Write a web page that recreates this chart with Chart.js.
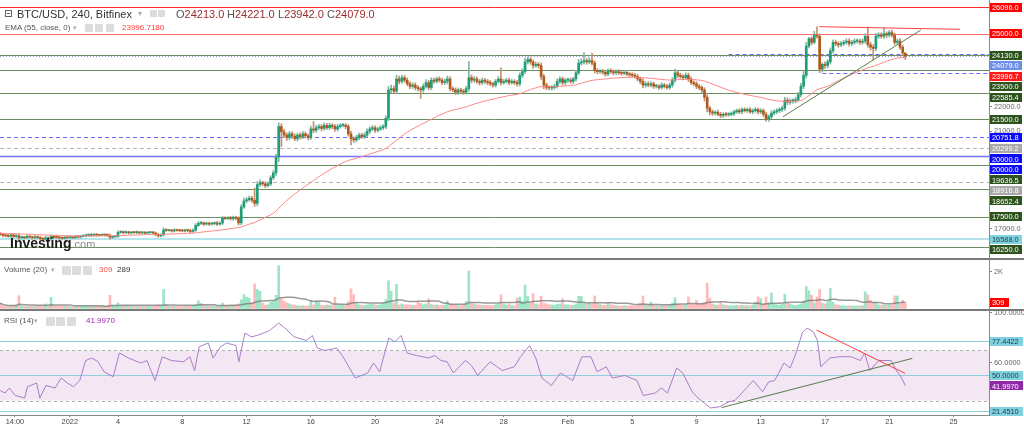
<!DOCTYPE html>
<html><head><meta charset="utf-8">
<script src="https://cdn.jsdelivr.net/npm/chart.js@4.4.1/dist/chart.umd.min.js"></script>
<style>
html,body{margin:0;padding:0;background:#fff;width:1024px;height:430px;overflow:hidden;font-family:"Liberation Sans",Arial,sans-serif;}
.pane{position:absolute;left:0;width:1024px;}
canvas{display:block;}
.hdr{position:absolute;white-space:nowrap;color:#444;}
.ic{position:absolute;background:#dcdcdc;border-radius:1px;}
.sep{position:absolute;left:0;width:1024px;background:#7a7a7a;}
.k{color:#555}.v{color:#9a2b2b}
</style></head><body>
<div class="pane" style="top:0;height:259px"><canvas id="cMain" width="1024" height="259"></canvas></div>
<div class="pane" style="top:259px;height:52px"><canvas id="cVol" width="1024" height="52"></canvas></div>
<div class="pane" style="top:311px;height:119px"><canvas id="cRsi" width="1024" height="119"></canvas></div>
<div class="sep" style="top:258px;height:2px"></div>
<div class="sep" style="top:309px;height:2px"></div>

<div style="position:absolute;left:5px;top:10px;width:7px;height:7px;border:1px solid #666;box-sizing:border-box"><div style="position:absolute;left:1px;top:2px;width:3px;height:1px;background:#666"></div></div>
<div class="hdr" style="left:17px;top:7px;font-size:11px;line-height:14px;color:#333">BTC/USD, 240, Bitfinex</div>
<div class="hdr" style="left:138px;top:8px;font-size:8px;line-height:12px;color:#aaa">▾</div>
<div class="ic" style="left:150px;top:10px;width:7px;height:7px"></div>
<div class="ic" style="left:158px;top:10px;width:7px;height:7px"></div>
<div class="hdr" style="left:176px;top:7px;font-size:11px;line-height:14px"><span class="k">O</span><span class="v">24213.0</span></div>
<div class="hdr" style="left:227px;top:7px;font-size:11px;line-height:14px"><span class="k">H</span><span class="v">24221.0</span></div>
<div class="hdr" style="left:278px;top:7px;font-size:11px;line-height:14px"><span class="k">L</span><span class="v">23942.0</span></div>
<div class="hdr" style="left:327px;top:7px;font-size:11px;line-height:14px"><span class="k">C</span><span class="v">24079.0</span></div>

<div class="hdr" style="left:5px;top:23px;font-size:8px;line-height:10px;color:#555">EMA (55, close, 0)</div>
<div class="hdr" style="left:73px;top:23px;font-size:7px;line-height:10px;color:#aaa">▾</div>
<div class="ic" style="left:85px;top:24px;width:8px;height:8px"></div>
<div class="ic" style="left:95px;top:24px;width:8px;height:8px"></div>
<div class="ic" style="left:106px;top:24px;width:8px;height:8px"></div>
<div class="hdr" style="left:122px;top:23px;font-size:8px;line-height:10px;color:#ff3b3b">23996.7180</div>

<div class="hdr" style="left:10px;top:235px;line-height:16px"><span style="font-weight:bold;font-size:14px;color:#1a1a1a">Investing</span><span style="font-size:11px;color:#8a8a8a">.com</span></div>

<div class="hdr" style="left:4px;top:265px;font-size:8px;line-height:10px;color:#555">Volume (20)</div>
<div class="hdr" style="left:51px;top:265px;font-size:7px;line-height:10px;color:#aaa">▾</div>
<div class="ic" style="left:62px;top:266px;width:9px;height:9px"></div>
<div class="ic" style="left:72px;top:266px;width:9px;height:9px"></div>
<div class="ic" style="left:83px;top:266px;width:9px;height:9px"></div>
<div class="hdr" style="left:99px;top:265px;font-size:8px;line-height:10px;color:#f05050">309</div>
<div class="hdr" style="left:117px;top:265px;font-size:8px;line-height:10px;color:#333">289</div>

<div class="hdr" style="left:4px;top:316px;font-size:8px;line-height:10px;color:#555">RSI (14)</div>
<div class="hdr" style="left:34px;top:316px;font-size:7px;line-height:10px;color:#aaa">▾</div>
<div class="ic" style="left:46px;top:317px;width:9px;height:9px"></div>
<div class="ic" style="left:56px;top:317px;width:9px;height:9px"></div>
<div class="ic" style="left:67px;top:317px;width:9px;height:9px"></div>
<div class="hdr" style="left:86px;top:316px;font-size:8px;line-height:10px;color:#9c27b0">41.9970</div>

<script>
const FONT = '"Liberation Sans", Arial, sans-serif';
// ---------- DATA (4h candles, Dec 27 16:00 -> Feb 22 00:00) ----------
const firstOpen = 16800;
const closes = [16780,16740,
16720,16700,16760,16690,16720,16640,
16660,16640,16700,16670,16640,16680,
16650,16610,16580,16640,16600,16690,
16670,16650,16640,16620,16650,16640,
16650,16640,16680,16670,16700,16720,
16740,16760,16730,16770,16750,16740,
16760,16750,16740,16660,16680,16690,
16860,16880,16850,16870,16840,16860,
16850,16870,16840,16860,16830,16850,
16860,16840,16780,16720,16760,16960,
16940,16950,16920,16960,16940,16930,
16920,16950,16940,16900,16950,17150,
17230,17250,17200,17240,17200,17220,
17250,17200,17240,17450,17430,17460,
17420,17480,17440,17250,17900,18150,
18200,18260,18180,18050,18820,18900,
18850,18780,18850,19100,19300,19950,
21200,20980,20850,20750,20900,20800,
20700,20850,20780,20900,20820,20750,
21100,21050,21150,21200,21120,21250,
21150,21250,21200,21100,21200,21250,
21250,21200,20900,20700,20650,20750,
20850,20780,20850,21000,21100,21150,
21050,21100,21150,21200,21540,22700,
22750,22650,23150,23050,23200,23100,
22950,22850,22900,22800,22750,22700,
22850,23000,22800,23100,23050,23150,
23100,23000,23050,23150,22750,22700,
22600,22700,22650,22600,22750,23200,
23100,23150,23050,23000,23100,23050,
23000,22950,22900,23050,23150,23000,
23050,23100,23000,23050,23000,22950,
23300,23450,23850,23950,23850,23700,
23750,23700,23250,22900,22800,22780,
22800,22850,23050,23150,23000,23100,
23100,23050,23150,23400,23800,23850,
23900,23850,23900,23800,23500,23450,
23450,23420,23350,23480,23450,23400,
23450,23400,23380,23420,23350,23330,
23300,23250,23150,23050,22900,22950,
22900,22950,22850,22850,22800,22900,
22850,22800,22900,23100,23400,23300,
23250,23200,23300,23150,23000,22950,
22850,22800,22700,22400,21950,21800,
21750,21780,21700,21650,21700,21680,
21700,21720,21800,21850,21800,21900,
21850,21900,21800,21850,21900,21800,
21850,21700,21500,21600,21750,21800,
21850,21900,21950,22280,22200,22250,
22250,22300,22500,22850,23300,24500,
24800,24650,24950,24900,23550,23750,
23700,23850,24300,24650,24600,24550,
24600,24650,24700,24600,24650,24700,
24700,24650,24700,24900,24550,24450,
24400,24900,24950,24900,25000,24950,
25050,24950,24650,24700,24450,24213,
24079];
const wickUp = [50,40,
40,60,50,40,60,80, 50,40,60,30,40,50, 40,50,40,60,40,70, 30,40,30,40,50,30,
40,30,50,40,30,50, 50,40,60,50,40,30, 40,30,50,60,40,30, 60,50,40,50,40,30,
40,50,30,40,30,40, 40,30,40,50,40,90, 50,40,30,50,40,30, 40,50,30,40,60,70,
80,60,40,50,40,50, 40,60,50,70,50,40, 60,50,40,60,100,120, 100,90,80,500,120,100,
60,80,70,90,100,120, 150,120,100,90,100,80, 100,80,90,100,80,70, 120,300,100,90,80,100,
80,90,70,80,90,70, 80,70,90,100,80,90, 80,70,90,100,80,90, 80,70,90,80,100,150,
150,120,160,120,100,90, 90,80,100,90,80,70, 100,120,90,100,90,80, 90,80,100,120,90,80,
80,90,70,80,100,660, 120,100,90,80,90,70, 80,90,70,80,100,450, 80,70,90,80,70,90,
100,120,150,100,90,80, 90,80,100,90,80,70, 80,90,100,90,80,70,
80,90,70,100,150,120, 330,100,120,300,90,80, 80,90,70,80,90,70, 70,80,60,70,80,60,
70,80,90,80,100,80, 80,90,70,80,70,90, 70,80,90,100,150,90, 90,80,100,90,80,70,
90,80,70,90,100,80, 80,70,90,80,70,80, 70,80,60,70,80,70, 70,60,80,70,80,60,
80,70,90,80,100,80, 80,70,90,120,90,80, 80,90,100,120,150,150, 60,80,150,340,100,60,
100,90,120,100,90,80, 90,80,100,90,80,90, 90,80,90,100,390,100, 100,120,100,90,230,80,
90,100,80,90,100,80,
8];
const wickDn = [40,60,
50,40,60,50,40,90, 40,50,30,50,60,40, 50,60,60,40,50,40, 40,30,50,40,30,40,
30,40,30,50,40,30, 40,50,40,30,50,40, 30,40,50,80,40,30, 30,40,50,40,50,40,
30,40,50,30,40,30, 30,50,60,60,40,50, 40,30,50,40,30,40, 30,40,50,60,40,50,
60,50,60,40,50,40, 50,60,40,60,50,40, 50,60,70,90,80,60, 80,70,90,120,100,80,
80,90,60,70,80,100, 200,600,100,120,90,100, 80,90,100,80,90,100, 80,100,90,80,100,70,
70,80,90,100,80,70, 70,90,100,250,100,80, 90,80,70,80,90,70, 90,80,70,80,90,100,
120,100,90,100,80,90, 80,100,90,100,90,350, 90,80,100,90,80,70, 80,90,80,100,90,80,
90,80,90,80,70,100, 100,90,80,100,80,90, 90,80,90,80,70,100, 70,80,90,70,80,100,
90,100,80,90,100,120, 80,100,120,150,90,80, 90,80,70,80,100,90,
90,80,90,80,70,90, 90,100,80,90,100,90, 70,80,90,70,80,90, 60,70,80,60,70,80,
80,70,80,100,120,90, 70,80,90,70,80,70, 80,70,80,90,80,100, 80,90,80,100,90,80,
100,90,120,150,150,120, 90,80,70,90,80,70, 60,70,80,60,70,80, 60,70,60,80,70,80,
70,90,80,90,80,70, 70,80,90,80,100,90, 90,80,70,90,100,120, 80,100,60,80,150,120,
120,100,90,80,90,100, 80,90,80,100,90,80, 80,90,80,90,100,120, 470,100,90,80,90,100,
80,90,100,80,90,100,
137];
const volumes = [285,150,
120,110,140,130,190,700, 150,120,110,130,140,120, 130,140,160,250,150,610, 140,120,110,130,120,110,
100,90,110,100,120,130, 140,130,120,150,130,120, 130,120,150,720,180,140, 300,190,150,160,140,130,
120,110,130,120,110,120, 120,110,160,200,150,1045, 200,140,120,130,110,100, 110,100,120,130,150,200,
420,280,160,150,140,130, 130,140,150,300,170,150, 160,150,170,250,480,760, 630,570,300,1350,1045,950,
300,180,200,350,400,720, 2340,570,400,300,250,200, 180,150,140,160,130,150, 420,200,420,380,180,160,
200,180,150,610,200,160, 180,160,380,1080,760,300, 200,180,160,200,220,250, 200,180,200,300,480,1520,
950,300,1330,190,250,200, 200,180,160,170,340,280, 200,250,530,220,180,200, 160,170,180,400,250,180,
180,160,150,170,380,2050, 300,250,200,180,160,180, 170,160,150,200,280,760, 250,180,250,160,150,570,
630,400,1290,665,300,815, 250,200,665,280,250,200, 200,180,220,250,530,200,
200,180,170,250,665,665, 300,250,280,250,685,280, 200,180,170,340,200,180, 150,140,130,150,140,130,
160,150,170,300,685,200, 200,340,180,150,140,160, 150,140,160,300,590,250, 200,180,200,630,250,200,
440,250,280,350,1390,570, 250,200,180,340,200,180, 150,140,160,170,150,180, 150,160,150,170,340,630,
530,250,630,300,855,250, 200,180,250,780,300,250, 180,170,200,250,400,1200, 970,720,300,630,1045,300,
250,380,1100,340,200,180, 150,140,130,150,140,130, 140,150,160,910,760,440, 300,340,200,180,200,180,
200,180,685,685,250,440,
309];
const emaSeed = 16830;
// RSI(14): candle index -> value
const rsiIdx = [0,1.8,3.4,5.6,9.1,10.2,13.6,14.8,17.1,20.5,22.8,25.1,27.4,29.7,31.9,34.2,36.5,38.8,42.2,44.5,47.9,52.5,54.8,57.8,60.5,63.9,68.5,70.8,72.6,74.3,77.7,79.5,82.3,84.5,88.0,89.1,91.4,93.7,96.0,98.3,100.6,104.0,106.3,109.7,114.3,116.6,118.4,121.1,125.7,128.0,132.6,137.2,139.4,141.7,145.1,147.4,149.7,152.0,155.4,160.0,162.3,164.6,166.9,169.2,173.7,176.0,178.3,182.9,187.5,192.0,194.3,197.7,200.0,202.3,205.8,209.2,213.8,217.2,220.6,222.9,226.3,228.6,233.2,237.8,240.1,244.6,246.9,249.2,252.6,254.9,258.4,260.6,262.9,265.2,268.6,272.1,274.4,277.8,281.2,284.7,287.0,289.2,292.7,295.0,297.2,299.5,301.3,303.6,305.2,306.4,309.8,313.2,317.8,321.2,322.8,324.7,328.1,332.7,334.9,336.1,338];
const rsiVal = [38,36,40,34,32,41,44,32,42,40,48,44,41,46,62,64,61,53,49,68,64,60,62,46,65,62,61,65,54,73,76,64,73,76,74,61,84,81,82,84,86,92,88,81,78,82,72,70,72,65,48,52,60,53,80,77,82,68,66,64,66,62,61,52,62,58,50,61,54,57,65,74,64,48,42,52,46,65,65,53,57,48,50,46,34,36,40,36,56,52,37,32,28,24,25,29,30,38,46,37,45,46,60,56,68,84,88,85,78,57,64,65,65,62,68,54,62,62,53,50,42];
// horizontal levels
const levelValues = [26096.0,25000.0,24130.0,23500.0,22585.4,21500.0,20751.8,20299.2,20000.0,19636.5,18916.8,18652.4,17500.0,16588.0,16250.0];
const levelKinds  = ['red','red2','green','green','green','green','blueDash','grayDash','blue','green','grayDash','green','green','cyan','green'];
const extraLabelValues = [24079.0, 23996.7, 20000.0];
const extraLabelKinds  = ['last','ema','blue'];
const lastPrice = 24079.0;
const segStart = [272, 307];
const segPrice = [24190, 23405];
const priceTicks = [22000, 21000, 17000];
const trendRedX = [305.8, 358.4], trendRedY = [25291, 25184];
const trendGreenX = [292.3, 343.8], trendGreenY = [21602, 25155];
const rsiRedX = [304.8, 337.9], rsiRedY = [86.4, 51.7];
const rsiGreenX = [269.3, 340.6], rsiGreenY = [24.3, 63.7];
const rsiLevels = [77.4422, 50.0, 21.451];
const rsiLabelValues = [77.4422, 50.0, 41.997, 21.451];
const rsiLabelKinds = ['cyan','cyan','purple','cyan'];
const rsiTicks = [100, 60];
const volTicks = [2000];
const volLabelValue = 309;
const tickIndex = [5.5,26,44,68,92,116,140,164,188,212,236,260,284,308,332,356];
const tickLabels = ['14:00','2022','4','8','12','16','20','24','28','Feb','5','9','13','17','21','25'];

if (wickUp.length!==closes.length||wickDn.length!==closes.length||volumes.length!==closes.length||rsiIdx.length!==rsiVal.length)
  throw new Error('len '+closes.length+' '+wickUp.length+' '+wickDn.length+' '+volumes.length+' '+rsiIdx.length+' '+rsiVal.length);

// ---------- derived ----------
const opens = closes.map((c,i)=> i===0 ? firstOpen : closes[i-1]);
const highs = closes.map((c,i)=> Math.max(opens[i],c) + wickUp[i]);
const lows  = closes.map((c,i)=> Math.min(opens[i],c) - wickDn[i]);
const ema = []; { let e = emaSeed; const k = 2/56; closes.forEach(c=>{ e = c*k + e*(1-k); ema.push(e); }); }
const volMa = volumes.map((v,i)=>{ const s = volumes.slice(Math.max(0,i-19), i+1); return s.reduce((a,b)=>a+b,0)/s.length; });

// ---------- styles ----------
const X_MIN = -0.075, X_MAX = 369.24;
const UP='#1f9d78', DN='#b0591d';
const KIND = {
  red:{line:'#ff2a2a', label:'#ff0000', text:'#fff'},
  red2:{line:'#ff6e6e', label:'#ff0000', text:'#fff'},
  green:{line:'#6b8f5e', label:'#2d531c', text:'#fff'},
  blue:{line:'#7373ff', label:'#0a0aff', text:'#fff', width:1.5},
  blueDash:{line:'#6a6aff', label:'#0a0aff', text:'#fff', dash:[4,3]},
  grayDash:{line:'#b4b4b4', label:'#a9a9a9', text:'#fff', dash:[4,3]},
  cyan:{line:'#b5e3ec', label:'#80d2e0', text:'#1b3a40', width:2},
  last:{label:'#6d8fe8', text:'#fff'},
  ema:{label:'#ff1a1a', text:'#fff'},
  purple:{label:'#8e2aa8', text:'#fff'}
};
Chart.defaults.font.family = FONT;
Chart.defaults.animation = false;

function drawLabels(chart, scale, vals, kinds, fmt, width){
  const ctx = chart.ctx;
  const items = vals.map((v,i)=>({v, k:KIND[kinds[i]]})).sort((a,b)=>b.v-a.v);
  let prev = -1e9;
  ctx.save();
  ctx.font = '7.4px ' + FONT; ctx.textBaseline='middle'; ctx.textAlign='left';
  items.forEach(it=>{
    let y = scale.getPixelForValue(it.v);
    if (y < prev + 10.5) y = prev + 10.5;
    prev = y;
    ctx.fillStyle = it.k.label;
    ctx.fillRect(990, Math.round(y-4.5), width, 9);
    ctx.fillStyle = it.k.text;
    ctx.fillText(fmt(it.v), 992, y+0.5);
  });
  ctx.restore();
}
function hline(ctx, a, py, color, w, dash, x0){
  ctx.strokeStyle=color; ctx.lineWidth=w||1; ctx.setLineDash(dash||[]);
  const yy = (w===2) ? Math.round(py) : Math.round(py)+0.5;
  ctx.beginPath(); ctx.moveTo(x0===undefined?a.left:x0, yy); ctx.lineTo(a.right, yy); ctx.stroke();
}
function yAxis(min, max, ticks, fmt){
  return {type:'linear', position:'right', min, max,
    afterBuildTicks: s=>{ s.ticks = ticks.map(v=>({value:v})); },
    afterFit: s=>{ s.width = 35; s.paddingTop = 0; s.paddingBottom = 0; },
    ticks:{font:{size:7.4}, color:'#666', padding:2, callback: fmt},
    grid:{drawOnChartArea:false, drawTicks:true, tickLength:3, color:'#888'},
    border:{display:true, color:'#8a8a8a'}
  };
}
const xHidden = {type:'linear', min:X_MIN, max:X_MAX, display:false, offset:false};
const baseOpts = {responsive:false, devicePixelRatio:1, events:[], animation:false,
  layout:{padding:0}, plugins:{legend:{display:false}, tooltip:{enabled:false}}};

// ---------- main chart ----------
const mainPlugin = {
  id:'levels',
  beforeDatasetsDraw(chart){
    const {ctx, chartArea:a, scales:{x,y}} = chart;
    ctx.save(); ctx.beginPath(); ctx.rect(a.left,a.top,a.right-a.left,a.bottom-a.top); ctx.clip();
    levelValues.forEach((v,i)=>{ const st=KIND[levelKinds[i]]; hline(ctx,a,y.getPixelForValue(v),st.line,st.width,st.dash); });
    segStart.forEach((s,i)=> hline(ctx,a,y.getPixelForValue(segPrice[i]),'#6a6aff',1,[4,3],x.getPixelForValue(s)));
    hline(ctx,a,y.getPixelForValue(lastPrice),'#8aa2e6',1,[1,2]);
    ctx.restore();
  },
  afterDraw(chart){
    drawLabels(chart, chart.scales.y, levelValues.concat(extraLabelValues), levelKinds.concat(extraLabelKinds), v=>v.toFixed(1), 32);
  }
};
new Chart(document.getElementById('cMain'), {
  type:'bar',
  data:{datasets:[
    {type:'line', data: trendRedX.map((v,i)=>({x:v,y:trendRedY[i]})), borderColor:'#ff4040', borderWidth:1, pointRadius:0, order:0},
    {type:'line', data: trendGreenX.map((v,i)=>({x:v,y:trendGreenY[i]})), borderColor:'#5a7d4c', borderWidth:1, pointRadius:0, order:0},
    {type:'line', data: ema.map((v,i)=>({x:i,y:v})), borderColor:'#ff8585', borderWidth:1, pointRadius:0, tension:0, order:1},
    {data: closes.map((c,i)=>({x:i,y:[opens[i],c]})), backgroundColor: closes.map((c,i)=> c>=opens[i]?UP:DN),
      barThickness:2, minBarLength:1, grouped:false, order:2},
    {data: closes.map((c,i)=>({x:i,y:[lows[i],highs[i]]})), backgroundColor: closes.map((c,i)=> c>=opens[i]?'#7fb7a3':'#c4916f'),
      barThickness:1, grouped:false, order:3}
  ]},
  options:Object.assign({}, baseOpts, {scales:{x:xHidden, y:yAxis(15770, 26385, priceTicks, v=>v.toFixed(1))}}),
  plugins:[mainPlugin]
});

// ---------- volume chart ----------
const volPlugin = {
  id:'volLabel',
  afterDraw(chart){ drawLabels(chart, chart.scales.y, [volLabelValue], ['red2'], v=>String(v), 19); }
};
new Chart(document.getElementById('cVol'), {
  type:'bar',
  data:{datasets:[
    {type:'line', data: volMa.map((v,i)=>({x:i,y:v})), borderColor:'rgba(120,120,120,0.75)', borderWidth:1.5, pointRadius:0, order:0},
    {data: volumes.map((v,i)=>({x:i,y:v})), backgroundColor: closes.map((c,i)=> c>=opens[i]?'rgba(38,196,128,0.45)':'rgba(255,105,105,0.45)'),
      barThickness:2, grouped:false, order:1}
  ]},
  options:Object.assign({}, baseOpts, {scales:{x:xHidden, y:yAxis(-140, 2712, volTicks, v=>(v/1000)+'K')}}),
  plugins:[volPlugin]
});

// ---------- RSI chart ----------
const rsiPlugin = {
  id:'rsiBand',
  beforeDatasetsDraw(chart){
    const {ctx, chartArea:a, scales:{y}} = chart;
    ctx.save();
    const y70 = y.getPixelForValue(70), y30 = y.getPixelForValue(30);
    ctx.fillStyle = '#f3e7f3'; ctx.fillRect(a.left, y70, a.right-a.left, y30-y70);
    hline(ctx,a,y70,'#b0b0b0',1,[3,3]); hline(ctx,a,y30,'#b0b0b0',1,[3,3]);
    rsiLevels.forEach(v=> hline(ctx,a,y.getPixelForValue(v),'#8fd0df',1));
    ctx.restore();
  },
  afterDraw(chart){
    drawLabels(chart, chart.scales.y, rsiLabelValues, rsiLabelKinds, v=>v.toFixed(4), 33);
  }
};
new Chart(document.getElementById('cRsi'), {
  type:'line',
  data:{datasets:[
    {data: rsiIdx.map((v,i)=>({x:v,y:rsiVal[i]})), borderColor:'#ad7cc9', borderWidth:1, pointRadius:0, tension:0, order:1},
    {data: rsiRedX.map((v,i)=>({x:v,y:rsiRedY[i]})), borderColor:'#ff4040', borderWidth:1, pointRadius:0, order:0},
    {data: rsiGreenX.map((v,i)=>({x:v,y:rsiGreenY[i]})), borderColor:'#55784a', borderWidth:1, pointRadius:0, order:0}
  ]},
  options:Object.assign({}, baseOpts, {scales:{
    x:{type:'linear', min:X_MIN, max:X_MAX, offset:false,
      afterBuildTicks: s=>{ s.ticks = tickIndex.map(v=>({value:v})); },
      afterFit: s=>{ s.height = 15; s.paddingLeft = 0; s.paddingRight = 0; },
      ticks:{font:{size:7.4}, color:'#444', padding:1, maxRotation:0, autoSkip:false, callback: v=> tickLabels[tickIndex.indexOf(v)]},
      grid:{drawOnChartArea:false, drawTicks:true, tickLength:2, color:'#888'},
      border:{display:true, color:'#8a8a8a'}},
    y: yAxis(18.4, 101.6, rsiTicks, v=>v.toFixed(4))
  }}),
  plugins:[rsiPlugin]
});
</script>
</body></html>
